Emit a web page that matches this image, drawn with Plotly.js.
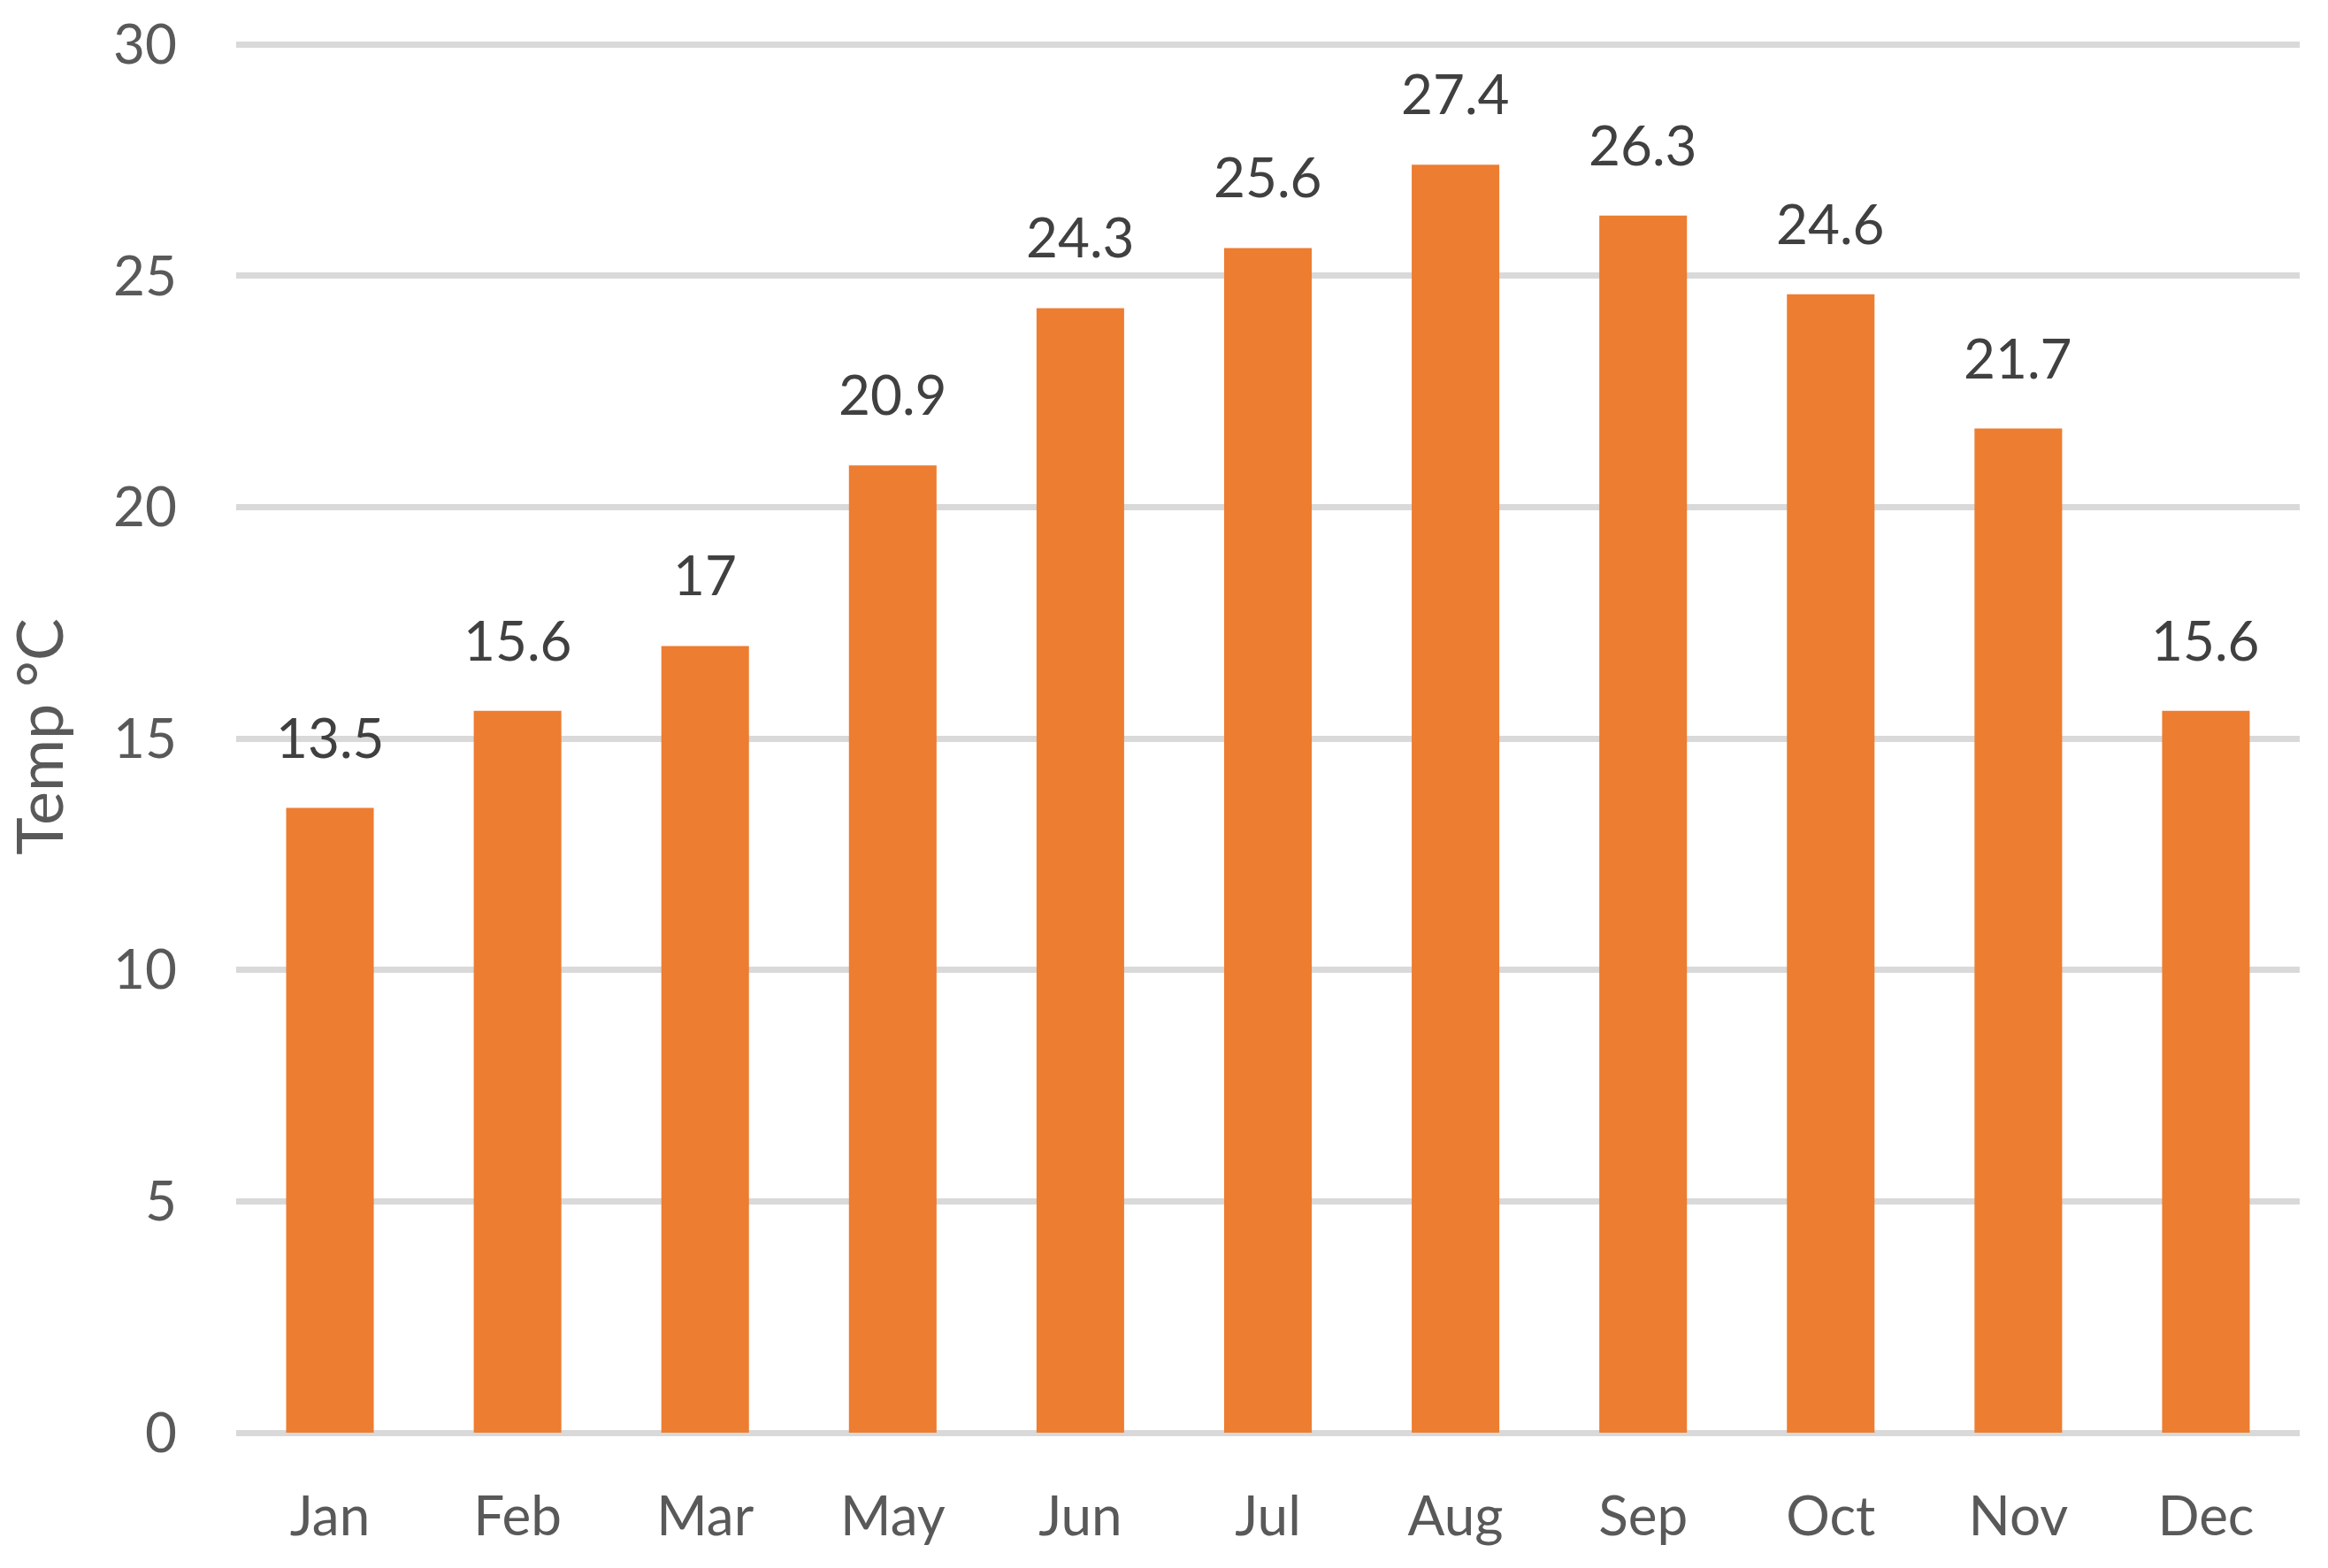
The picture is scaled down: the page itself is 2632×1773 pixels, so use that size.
<!DOCTYPE html>
<html>
<head>
<meta charset="utf-8">
<script src="https://cdn.plot.ly/plotly-3.0.1.min.js"></script>
<style>html,body{margin:0;padding:0;background:#fff;}#chart{width:2632px;height:1773px;}</style>
</head>
<body>
<div id="chart"></div>
<script>
const months = ["Jan","Feb","Mar","May","Jun","Jul","Aug","Sep","Oct","Nov","Dec"];
const temps = [13.5,15.6,17,20.9,24.3,25.6,27.4,26.3,24.6,21.7,15.6];
const yTicks = [0,5,10,15,20,25,30];

const FONT = "Lato, 'Open Sans', sans-serif";

const trace = {
  type: "bar",
  x: months,
  y: temps,
  marker: {color: "#ED7D31", line: {width: 0}},
  hoverinfo: "x+y"
};

const annotations = months.map((m, i) => ({
  x: m, y: temps[i], xref: "x", yref: "y",
  text: String(temps[i]),
  showarrow: false,
  yanchor: "bottom",
  yshift: 42,
  font: {family: FONT, size: 62, color: "#404040"}
}));

const layout = {
  width: 2632, height: 1773,
  margin: {l: 267, r: 32, t: 46, b: 153},
  paper_bgcolor: "#fff", plot_bgcolor: "#fff",
  bargap: 0.533,
  showlegend: false,
  font: {family: FONT, color: "#595959"},
  xaxis: {
    type: "category",
    showgrid: false, zeroline: false, showline: false,
    ticks: "", ticklabelstandoff: 53,
    tickfont: {family: FONT, size: 62, color: "#595959"}
  },
  yaxis: {
    range: [0, 30.08],
    tickvals: yTicks,
    ticktext: yTicks.map(String),
    showgrid: true, gridcolor: "#d9d9d9", gridwidth: 7,
    zeroline: true, zerolinecolor: "#d9d9d9", zerolinewidth: 7,
    showline: false, ticks: "", ticklabelstandoff: 66,
    tickfont: {family: FONT, size: 62, color: "#595959"},
    title: {text: "Temp °C", font: {family: FONT, size: 72, color: "#595959"}, standoff: 34}
  },
  annotations: annotations
};

Plotly.newPlot("chart", [trace], layout, {displayModeBar: false, staticPlot: true});
</script>
</body>
</html>
